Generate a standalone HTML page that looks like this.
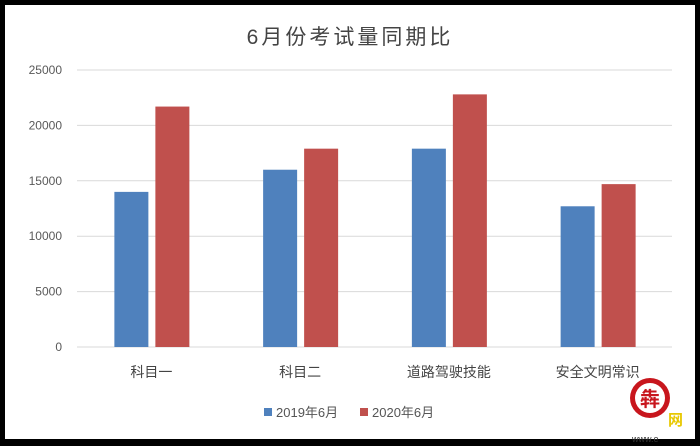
<!DOCTYPE html>
<html><head><meta charset="utf-8"><style>
body{margin:0;background:#000;width:700px;height:446px;overflow:hidden}
svg{display:block}
text{font-family:"Liberation Sans","Noto Sans CJK SC",sans-serif}
</style></head><body>
<svg width="700" height="446">
<rect x="5" y="5" width="690" height="434" fill="#fff"/>
<text x="350" y="44" text-anchor="middle" font-size="21" letter-spacing="3" fill="#444">6月份考试量同期比</text>
<g id="grid"></g><g id="bars"></g><g id="xl"></g>
<g>
<rect x="264" y="408" width="8" height="8" fill="#4f81bd"/>
<text x="276" y="417" font-size="13" fill="#555">2019年6月</text>
<rect x="360" y="408" width="8" height="8" fill="#c0504d"/>
<text x="372" y="417" font-size="13" fill="#555">2020年6月</text>
</g>
<g>
<circle cx="650" cy="398" r="20" fill="#c8161d"/>
<circle cx="650" cy="398" r="15" fill="#fff"/>
<text x="650" y="406" text-anchor="middle" font-size="20" fill="#c8161d" font-weight="bold">犇</text>
<text x="668" y="425" font-size="15" fill="#e8c800" font-weight="bold">网</text>
<text x="632" y="442" font-size="9" fill="#333">www.e</text>
</g>
</svg>
<script>
const categories=["科目一","科目二","道路驾驶技能","安全文明常识"];
const s2019=[14000,16000,17900,12700];
const s2020=[21700,17900,22800,14700];
const ticks=[0,5000,10000,15000,20000,25000];
const ns="http://www.w3.org/2000/svg";
const x0=77,x1=672,yb=347,yt=70,maxV=25000;
const y=v=>yb-(v/maxV)*(yb-yt);
const bw=(x1-x0)/categories.length;
function mk(t,a,p){const e=document.createElementNS(ns,t);for(const k in a)e.setAttribute(k,a[k]);p.appendChild(e);return e;}
const g=document.getElementById('grid');
ticks.forEach(t=>{
 const l=mk('line',{x1:x0,x2:x1,y1:y(t),y2:y(t),stroke:'#d9d9d9','stroke-width':1},g);
 
 
 const tx=mk('text',{x:62,y:y(t)+4,'text-anchor':'end','font-size':12,fill:'#595959'},g);
 tx.textContent=t;
 
 
});
const b=document.getElementById('bars'),xl=document.getElementById('xl');
categories.forEach((c,i)=>{
 const cx=x0+bw*(i+0.5);
 const r1=mk('rect',{x:cx-37,y:y(s2019[i]),width:34,height:yb-y(s2019[i]),fill:'#4f81bd'},b);
 
 
 const r2=mk('rect',{x:cx+4,y:y(s2020[i]),width:34,height:yb-y(s2020[i]),fill:'#c0504d'},b);
 
 
 const t=mk('text',{x:cx,y:377,'text-anchor':'middle','font-size':14,fill:'#444'},xl);
 t.textContent=c;
 
 
});
</script>
</body></html>
